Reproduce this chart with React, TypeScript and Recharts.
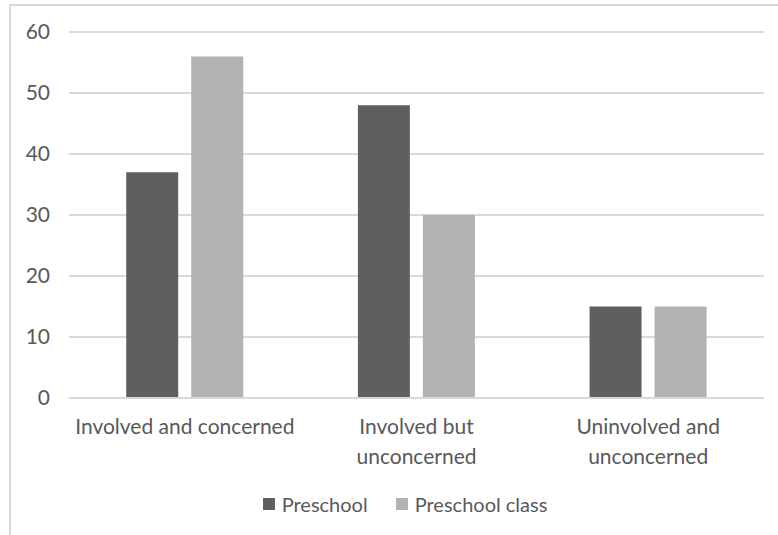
import { BarChart, Bar, XAxis, YAxis, CartesianGrid, Legend } from "recharts";

// categories (line breaks mark where the axis label wraps)
const categories = [
  "Involved and concerned",
  "Involved but\nunconcerned",
  "Uninvolved and\nunconcerned",
];
const preschool = [37, 48, 15];
const preschoolClass = [56, 30, 15];
const yTicks = [0, 10, 20, 30, 40, 50, 60];

const seriesNames = { preschool: "Preschool", preschoolClass: "Preschool class" };
const colors = { preschool: "#5f5f5f", preschoolClass: "#b2b2b2" };

const data = categories.map((name, i) => ({
  name,
  preschool: preschool[i],
  preschoolClass: preschoolClass[i],
}));

const FONT = "Lato, 'Open Sans', sans-serif";
const TEXT = "#595959";

function CategoryTick(props: any) {
  const { x, y, payload } = props;
  const lines = String(payload.value).split("\n");
  return (
    <text x={x} y={y} textAnchor="middle" fill={TEXT} fontSize={21} fontFamily={FONT}>
      {lines.map((line, i) => (
        <tspan key={i} x={x} y={y + 36 + i * 30}>
          {line}
        </tspan>
      ))}
    </text>
  );
}

function LegendContent() {
  const items = [
    { key: "preschool", label: seriesNames.preschool, color: colors.preschool },
    { key: "preschoolClass", label: seriesNames.preschoolClass, color: colors.preschoolClass },
  ];
  return (
    <div
      style={{
        height: 40,
        boxSizing: "border-box",
        paddingTop: 12,
        display: "flex",
        justifyContent: "center",
        alignItems: "center",
        paddingLeft: 46,
        fontFamily: FONT,
        fontSize: 20,
        color: TEXT,
      }}
    >
      {items.map((it, i) => (
        <div key={it.key} style={{ display: "flex", alignItems: "center", marginLeft: i ? 28 : 0 }}>
          <span style={{ width: 12, height: 12, background: it.color, marginRight: 7 }} />
          <span>{it.label}</span>
        </div>
      ))}
    </div>
  );
}

export default function App() {
  return (
    <div style={{ position: "absolute", left: 0, top: 0, width: 778, height: 535, background: "#fff", overflow: "hidden" }}>
      {/* chart frame, cropped at the top and right */}
      <div
        style={{
          position: "absolute",
          left: 9,
          top: 4,
          right: 0,
          bottom: 0,
          borderTop: "2px solid #d9d9d9",
          borderLeft: "2px solid #d9d9d9",
        }}
      />
      <div style={{ position: "absolute", left: 0, top: 0 }}>
        <BarChart
          width={778}
          height={535}
          data={data}
          margin={{ top: 32, right: 14, left: 0, bottom: 17 }}
          barCategoryGap="24.7%"
          barGap={13}
        >
          <CartesianGrid vertical={false} stroke="#d9d9d9" strokeWidth={2} />
          <XAxis
            dataKey="name"
            height={80}
            tickSize={0}
            tickMargin={0}
            tickLine={false}
            axisLine={{ stroke: "#d9d9d9", strokeWidth: 2 }}
            tick={<CategoryTick />}
            interval={0}
          />
          <YAxis
            width={69}
            domain={[0, 60]}
            ticks={yTicks}
            axisLine={false}
            tickLine={false}
            tickSize={0}
            tickMargin={19}
            tick={{ fill: TEXT, fontSize: 21, fontFamily: FONT }}
          />
          <Legend verticalAlign="bottom" content={<LegendContent />} />
          <Bar dataKey="preschool" name={seriesNames.preschool} fill={colors.preschool} isAnimationActive={false} />
          <Bar dataKey="preschoolClass" name={seriesNames.preschoolClass} fill={colors.preschoolClass} isAnimationActive={false} />
        </BarChart>
      </div>
    </div>
  );
}
